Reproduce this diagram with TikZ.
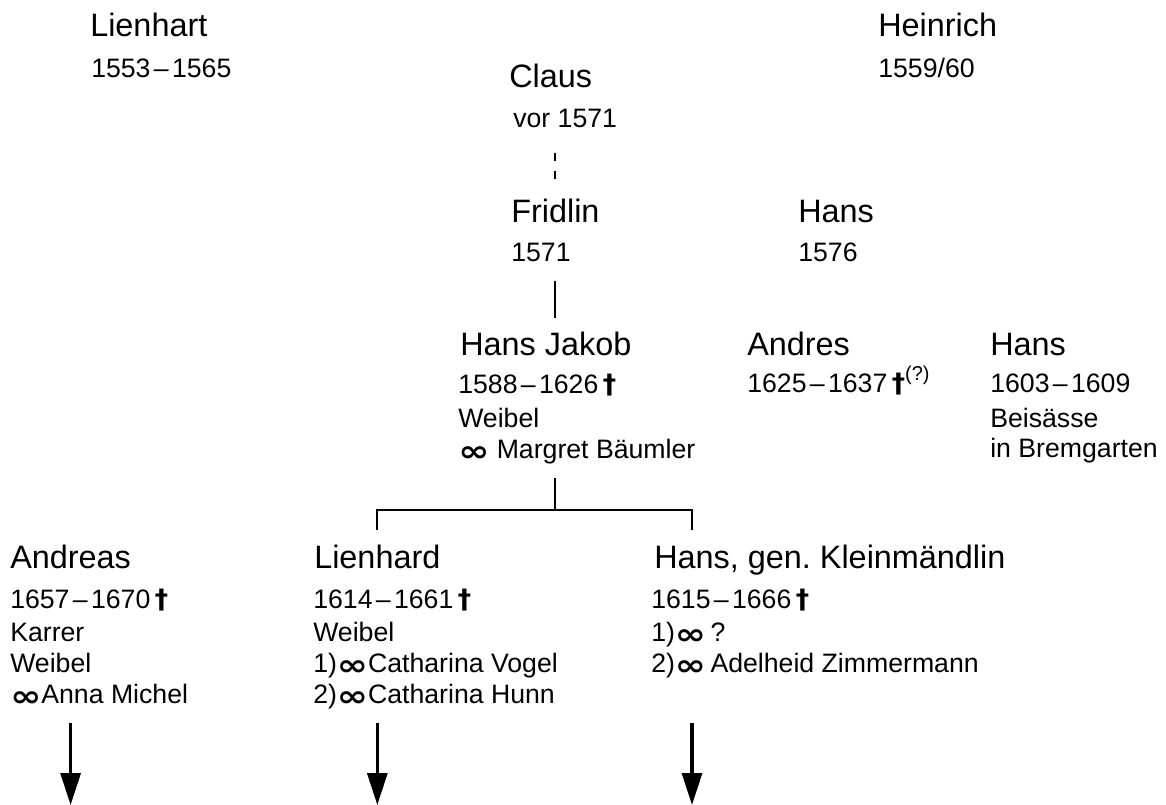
\documentclass[tikz,border=0pt]{standalone}
\usepackage{fontspec}
\usepackage{graphicx}
\setmainfont{Liberation Sans}
\newfontfamily\symfont{DejaVu Sans}
\usetikzlibrary{arrows.meta}
\newcommand{\tot}{\,{\symfont\bfseries †}}
\newcommand{\ehe}{\raisebox{-2.4pt}{\scalebox{1.4}[1.1]{\symfont\bfseries ∞}}}
\newcommand{\bis}{\kern2.5pt–\kern2.5pt}

\begin{document}
\begin{tikzpicture}[x=0.75pt,y=-0.75pt]
    \tikzstyle{person}=[anchor=base west,inner sep=0pt,font=\fontsize{24.3}{28}\selectfont]
    \tikzstyle{angabe}=[anchor=base west,inner sep=0pt,font=\fontsize{20}{24}\selectfont]
    \tikzstyle{strich}=[line width=1.5pt]
    \tikzstyle{pfeil}=[line width=2.4pt,-{Triangle[length=24pt,width=15pt]}]
    \useasboundingbox (0,0) rectangle (1166,805);
    \node[person] (lienhart) at (90,37) {Lienhart};
    \node[angabe] (lienhart-1) at (91,78) {1553\bis1565};
    \node[person] (heinrich) at (878,37) {Heinrich};
    \node[angabe] (heinrich-1) at (878,78) {1559/60};
    \node[person] (claus) at (509,88) {Claus};
    \node[angabe] (claus-1) at (513,128) {vor 1571};
    \node[person] (fridlin) at (511,223) {Fridlin};
    \node[angabe] (fridlin-1) at (511,262) {1571};
    \node[person] (hans) at (798,223) {Hans};
    \node[angabe] (hans-1) at (798,262) {1576};
    \node[person] (hansjakob) at (460,355) {Hans Jakob};
    \node[angabe] (hansjakob-1) at (458,393) {1588\bis1626\tot};
    \node[angabe] (hansjakob-2) at (458,427) {Weibel};
    \node[angabe] (hansjakob-3) at (458,458) {\ehe\ Margret Bäumler};
    \node[person] (andres) at (747,355) {Andres};
    \node[angabe] (andres-1) at (747,392) {1625\bis1637\tot\raisebox{0.8ex}{\fontsize{15}{15}\selectfont(?)}};
    \node[person] (hansbr) at (990,355) {Hans};
    \node[angabe] (hansbr-1) at (990,392) {1603\bis1609};
    \node[angabe] (hansbr-2) at (990,427) {Beisässe};
    \node[angabe] (hansbr-3) at (990,457) {in Bremgarten};
    \node[person] (andreas) at (10,568) {Andreas};
    \node[angabe] (andreas-1) at (10,608) {1657\bis1670\tot};
    \node[angabe] (andreas-2) at (10,641) {Karrer};
    \node[angabe] (andreas-3) at (10,672) {Weibel};
    \node[angabe] (andreas-4) at (10,703) {\ehe Anna Michel};
    \node[person] (lienhard) at (314,568) {Lienhard};
    \node[angabe] (lienhard-1) at (313,608) {1614\bis1661\tot};
    \node[angabe] (lienhard-2) at (313,641) {Weibel};
    \node[angabe] (lienhard-3) at (313,672) {1)\ehe Catharina Vogel};
    \node[angabe] (lienhard-4) at (313,703) {2)\ehe Catharina Hunn};
    \node[person] (hansgen) at (654,568) {Hans, gen.\ Kleinmändlin};
    \node[angabe] (hansgen-1) at (651,608) {1615\bis1666\tot};
    \node[angabe] (hansgen-2) at (651,641) {1)\ehe\,?};
    \node[angabe] (hansgen-3) at (651,672) {2)\ehe\,Adelheid Zimmermann};
    \coordinate (hansgen-top) at ([xshift=28.5pt,yshift=10.5pt]hansgen.north west);
    \coordinate (pfeil-oben) at (0,723);
    \coordinate (pfeil-unten) at (0,805);
    \draw[strich,dash pattern=on 6.4pt off 7.1pt,shorten <=18pt,shorten >=15.4pt] (claus-1.south -| fridlin.north) -- (fridlin.north);
    \draw[strich,shorten <=13.5pt,shorten >=10pt] (fridlin-1.south -| fridlin.north) -- (fridlin.north |- hansjakob.north);
    \draw[strich,shorten <=10.5pt] (hansjakob-3.south -| fridlin.north) -- ++(0,46) coordinate (gabel);
    \draw[strich] ([yshift=10.5pt]lienhard.north) |- (gabel) -| (hansgen-top);
    \draw[pfeil] (andreas.north |- pfeil-oben) -- (andreas.north |- pfeil-unten);
    \draw[pfeil] (lienhard.north |- pfeil-oben) -- (lienhard.north |- pfeil-unten);
    \draw[pfeil] (hansgen-top |- pfeil-oben) -- (hansgen-top |- pfeil-unten);
\end{tikzpicture}
\end{document}
